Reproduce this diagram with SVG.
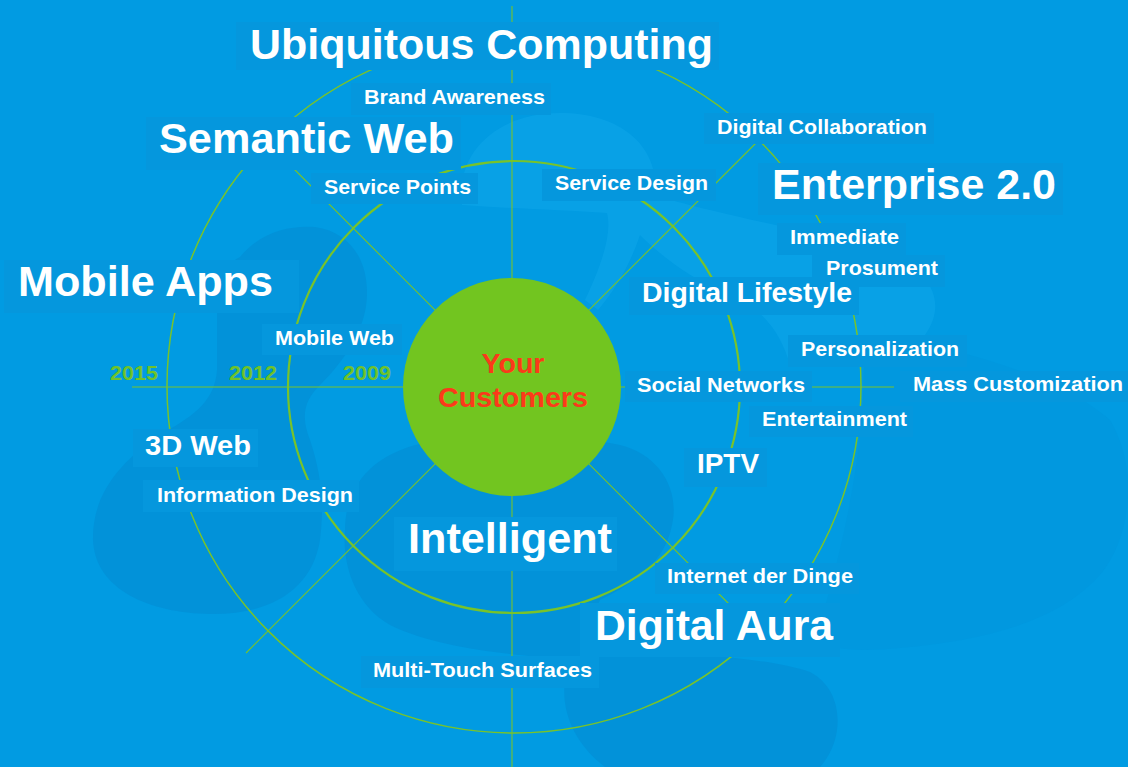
<svg xmlns="http://www.w3.org/2000/svg" width="1128" height="767" viewBox="0 0 1128 767">
<style>
.bg{fill:#019be2}
.dark{fill:#0292d9}
.light{fill:#08a1e6}
.faint{fill:#0198df}
.box{fill:#0597dd}
.t{font-family:"Liberation Sans",Arial,sans-serif;font-weight:bold;fill:#ffffff}
.l{font-size:43px}
.m{font-size:28px}
.s{font-size:21px}
.yr{font-family:"Liberation Sans",Arial,sans-serif;font-weight:bold;font-size:21px;fill:#6fc22a}
.ring{fill:none;stroke:#78c32a}
.ray{fill:none;stroke:#78c32a;stroke-width:1.1}
.red{font-family:"Liberation Sans",Arial,sans-serif;font-weight:bold;font-size:28px;fill:#fb3a1a}
</style>
<rect class="bg" x="0" y="0" width="1128" height="767"/>
<g id="background-shapes">
<path class="faint" d="M863,333 C950,345 1060,375 1110,420 C1140,470 1130,540 1100,575 C1060,620 990,640 900,648 C860,652 830,650 815,640 C840,560 870,440 863,333 Z"/>
<path class="light" d="M462,205 C455,150 500,113 560,113 C625,113 660,150 655,195 C700,210 780,225 860,245 C930,262 950,300 925,335 C900,350 860,350 820,362 L790,365 C780,330 760,305 720,290 C690,278 660,255 640,235 C630,265 615,290 598,310 L585,300 C603,262 612,232 607,213 C560,210 500,208 462,205 Z"/>
<path class="dark" d="M240,257 C260,232 290,225 315,227 C350,232 368,260 367,295 C366,330 345,360 320,385 C305,400 300,415 310,440 C320,470 325,500 320,540 C312,590 270,615 210,614 C150,613 95,590 93,540 C92,495 120,460 165,432 C195,415 215,400 217,370 L217,290 C220,272 230,262 240,257 Z"/>
<path class="dark" d="M345,530 C345,480 380,450 430,442 C480,435 560,432 620,445 C660,455 680,490 672,525 C665,560 640,580 600,600 C590,620 585,640 590,655 C650,650 760,655 810,672 C845,690 845,740 820,767 L605,767 C570,740 555,700 570,660 C520,655 440,650 390,625 C355,605 342,565 345,530 Z"/>
</g>
<g id="connectors">
<circle class="ring" cx="514" cy="386" r="347" stroke-width="1.5"/>
<circle class="ring" cx="514" cy="387" r="226" stroke-width="2.2"/>
<line class="ray" x1="512" y1="6" x2="512" y2="767"/>
<line class="ray" x1="132" y1="387" x2="894" y2="387"/>
<line class="ray" x1="285" y1="160" x2="740" y2="615"/>
<line class="ray" x1="246" y1="653" x2="762" y2="137"/>
</g>
<g id="center">
<circle cx="512" cy="387" r="109" fill="#72c520"/>
<text class="red" x="513" y="373" text-anchor="middle" textLength="63" lengthAdjust="spacingAndGlyphs">Your</text>
<text class="red" x="513" y="407" text-anchor="middle" textLength="150" lengthAdjust="spacingAndGlyphs">Customers</text>
</g>
<g id="years">
<text class="yr" x="110" y="380" textLength="48" lengthAdjust="spacingAndGlyphs">2015</text>
<text class="yr" x="229" y="380" textLength="48" lengthAdjust="spacingAndGlyphs">2012</text>
<text class="yr" x="343" y="380" textLength="48" lengthAdjust="spacingAndGlyphs">2009</text>
</g>
<g id="ubiquitous-computing"><rect class="box" x="236" y="22" width="483" height="48"/><text class="t l" x="250" y="59" textLength="463" lengthAdjust="spacingAndGlyphs">Ubiquitous Computing</text></g>
<g id="brand-awareness"><rect class="box" x="351" y="83" width="200" height="32"/><text class="t s" x="364" y="104" textLength="181" lengthAdjust="spacingAndGlyphs">Brand Awareness</text></g>
<g id="semantic-web"><rect class="box" x="146" y="117" width="315" height="53"/><text class="t l" x="159" y="153" textLength="295" lengthAdjust="spacingAndGlyphs">Semantic Web</text></g>
<g id="service-points"><rect class="box" x="311" y="173" width="167" height="31"/><text class="t s" x="324" y="194" textLength="147" lengthAdjust="spacingAndGlyphs">Service Points</text></g>
<g id="service-design"><rect class="box" x="542" y="169" width="174" height="32"/><text class="t s" x="555" y="190" textLength="153" lengthAdjust="spacingAndGlyphs">Service Design</text></g>
<g id="digital-collaboration"><rect class="box" x="704" y="113" width="230" height="31"/><text class="t s" x="717" y="134" textLength="210" lengthAdjust="spacingAndGlyphs">Digital Collaboration</text></g>
<g id="enterprise-2-0"><rect class="box" x="758" y="163" width="305" height="52"/><text class="t l" x="772" y="199" textLength="284" lengthAdjust="spacingAndGlyphs">Enterprise 2.0</text></g>
<g id="immediate"><rect class="box" x="777" y="223" width="129" height="32"/><text class="t s" x="790" y="244" textLength="109" lengthAdjust="spacingAndGlyphs">Immediate</text></g>
<g id="prosument"><rect class="box" x="812" y="255" width="133" height="32"/><text class="t s" x="826" y="275" textLength="112" lengthAdjust="spacingAndGlyphs">Prosument</text></g>
<g id="digital-lifestyle"><rect class="box" x="629" y="277" width="230" height="38"/><text class="t m" x="642" y="302" textLength="210" lengthAdjust="spacingAndGlyphs">Digital Lifestyle</text></g>
<g id="mobile-apps"><rect class="box" x="4" y="260" width="295" height="53"/><text class="t l" x="18" y="296" textLength="255" lengthAdjust="spacingAndGlyphs">Mobile Apps</text></g>
<g id="mobile-web"><rect class="box" x="262" y="324" width="140" height="31"/><text class="t s" x="275" y="345" textLength="119" lengthAdjust="spacingAndGlyphs">Mobile Web</text></g>
<g id="personalization"><rect class="box" x="788" y="335" width="179" height="32"/><text class="t s" x="801" y="356" textLength="158" lengthAdjust="spacingAndGlyphs">Personalization</text></g>
<g id="social-networks"><rect class="box" x="625" y="371" width="187" height="31"/><text class="t s" x="637" y="392" textLength="168" lengthAdjust="spacingAndGlyphs">Social Networks</text></g>
<g id="mass-customization"><rect class="box" x="900" y="371" width="228" height="31"/><text class="t s" x="913" y="391" textLength="210" lengthAdjust="spacingAndGlyphs">Mass Customization</text></g>
<g id="entertainment"><rect class="box" x="749" y="406" width="164" height="31"/><text class="t s" x="762" y="426" textLength="145" lengthAdjust="spacingAndGlyphs">Entertainment</text></g>
<g id="3d-web"><rect class="box" x="133" y="429" width="125" height="38"/><text class="t m" x="145" y="455" textLength="106" lengthAdjust="spacingAndGlyphs">3D Web</text></g>
<g id="iptv"><rect class="box" x="684" y="448" width="83" height="39"/><text class="t m" x="697" y="473" textLength="62" lengthAdjust="spacingAndGlyphs">IPTV</text></g>
<g id="information-design"><rect class="box" x="143" y="480" width="216" height="32"/><text class="t s" x="157" y="502" textLength="196" lengthAdjust="spacingAndGlyphs">Information Design</text></g>
<g id="intelligent"><rect class="box" x="394" y="517" width="223" height="54"/><text class="t l" x="408" y="553" textLength="204" lengthAdjust="spacingAndGlyphs">Intelligent</text></g>
<g id="internet-der-dinge"><rect class="box" x="655" y="563" width="204" height="31"/><text class="t s" x="667" y="583" textLength="186" lengthAdjust="spacingAndGlyphs">Internet der Dinge</text></g>
<g id="digital-aura"><rect class="box" x="580" y="603" width="260" height="54"/><text class="t l" x="595" y="640" textLength="238" lengthAdjust="spacingAndGlyphs">Digital Aura</text></g>
<g id="multi-touch-surfaces"><rect class="box" x="361" y="656" width="238" height="32"/><text class="t s" x="373" y="677" textLength="219" lengthAdjust="spacingAndGlyphs">Multi-Touch Surfaces</text></g>
</svg>
